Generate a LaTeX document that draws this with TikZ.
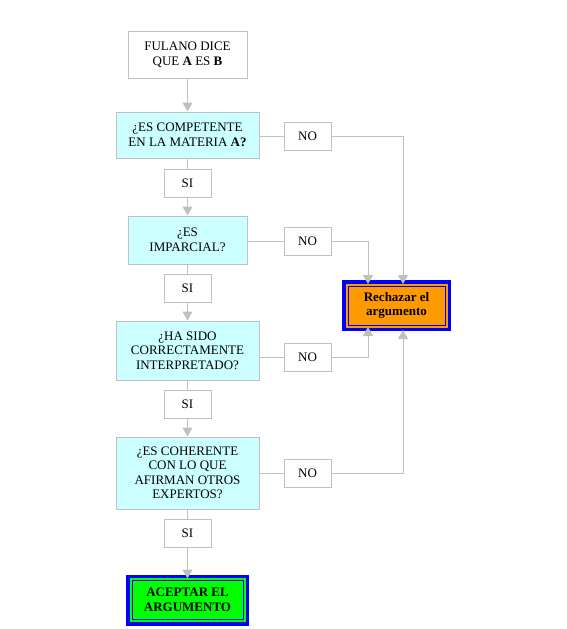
\documentclass[tikz,border=0pt]{standalone}
\usepackage{fontspec}
\setmainfont{Liberation Serif}
\usetikzlibrary{arrows.meta,positioning}
\definecolor{linegray}{RGB}{192,192,192}
\definecolor{qcyan}{RGB}{204,255,255}
\definecolor{rejorange}{RGB}{255,153,0}
\definecolor{accgreen}{RGB}{0,255,0}
\begin{document}
\begin{tikzpicture}[x=1pt,y=-1pt,
    box/.style={draw=linegray,line width=1pt,align=center,inner sep=0pt,
                font=\fontsize{13}{14.5}\selectfont},
    question/.style={box,fill=qcyan},
    answer/.style={box,minimum width=47pt,minimum height=28pt},
    final/.style={box,fill=#1,draw=blue,double=#1,double distance=2pt,
                  preaction={draw=blue,line width=9pt},
                  minimum height=42pt,font=\fontsize{13}{14.5}\selectfont\bfseries},
    flow/.style={draw=linegray,line width=1pt,-{Triangle[length=9pt,width=10pt]}},
    link/.style={draw=linegray,line width=1pt}
]
\useasboundingbox (0,0) rectangle (567,629);
\node[box,minimum width=119pt,minimum height=47pt] (start) at (187.5,54.5) {FULANO DICE\\QUE \textbf{A} ES \textbf{B}};
\node[question,minimum width=143pt,minimum height=46pt] (q1) at (187.5,135) {¿ES COMPETENTE\\EN LA MATERIA \textbf{A?}};
\node[answer] (no1) at (307.5,136) {NO};
\node[answer] (si1) at (187.5,183.5) {SI};
\node[question,minimum width=119pt,minimum height=48pt] (q2) at (187.5,240) {¿ES\\IMPARCIAL?};
\node[answer] (no2) at (307.5,241) {NO};
\node[answer] (si2) at (187.5,288) {SI};
\node[question,minimum width=143pt,minimum height=59pt] (q3) at (187.5,350.5) {¿HA SIDO\\CORRECTAMENTE\\INTERPRETADO?};
\node[answer] (no3) at (307.5,357) {NO};
\node[answer] (si3) at (187.5,404) {SI};
\node[question,minimum width=143pt,minimum height=72pt] (q4) at (187.5,473) {¿ES COHERENTE\\CON LO QUE\\AFIRMAN OTROS\\EXPERTOS?};
\node[answer] (no4) at (307.5,473.5) {NO};
\node[answer] (si4) at (187.5,533) {SI};
\node[final=accgreen,minimum width=114pt] (accept) at (187.5,600) {ACEPTAR EL\\ARGUMENTO};
\node[final=rejorange,minimum width=100pt] (reject) at (396.5,305.5) {Rechazar el\\argumento};
% main line
\draw[flow] (start) -- (q1);
\draw[link] (q1) -- (si1);
\draw[flow] (si1) -- (q2);
\draw[link] (q2) -- (si2);
\draw[flow] (si2) -- (q3);
\draw[link] (q3) -- (si3);
\draw[flow] (si3) -- (q4);
\draw[link] (q4) -- (si4);
\draw[flow] (si4) -- (accept);
% rejections
\draw[link] (q1.east |- no1) -- (no1);
\draw[link] (q2.east |- no2) -- (no2);
\draw[link] (q3.east |- no3) -- (no3);
\draw[link] (q4.east |- no4) -- (no4);
\draw[flow] (no1) -| ([xshift=6.5pt]reject.north);
\draw[flow] (no2) -| ([xshift=-28.5pt]reject.north);
\draw[flow] (no3) -| ([xshift=-28.5pt]reject.south);
\draw[flow,shorten >=3pt] (no4) -| ([xshift=6.5pt]reject.south);
\end{tikzpicture}
\end{document}
